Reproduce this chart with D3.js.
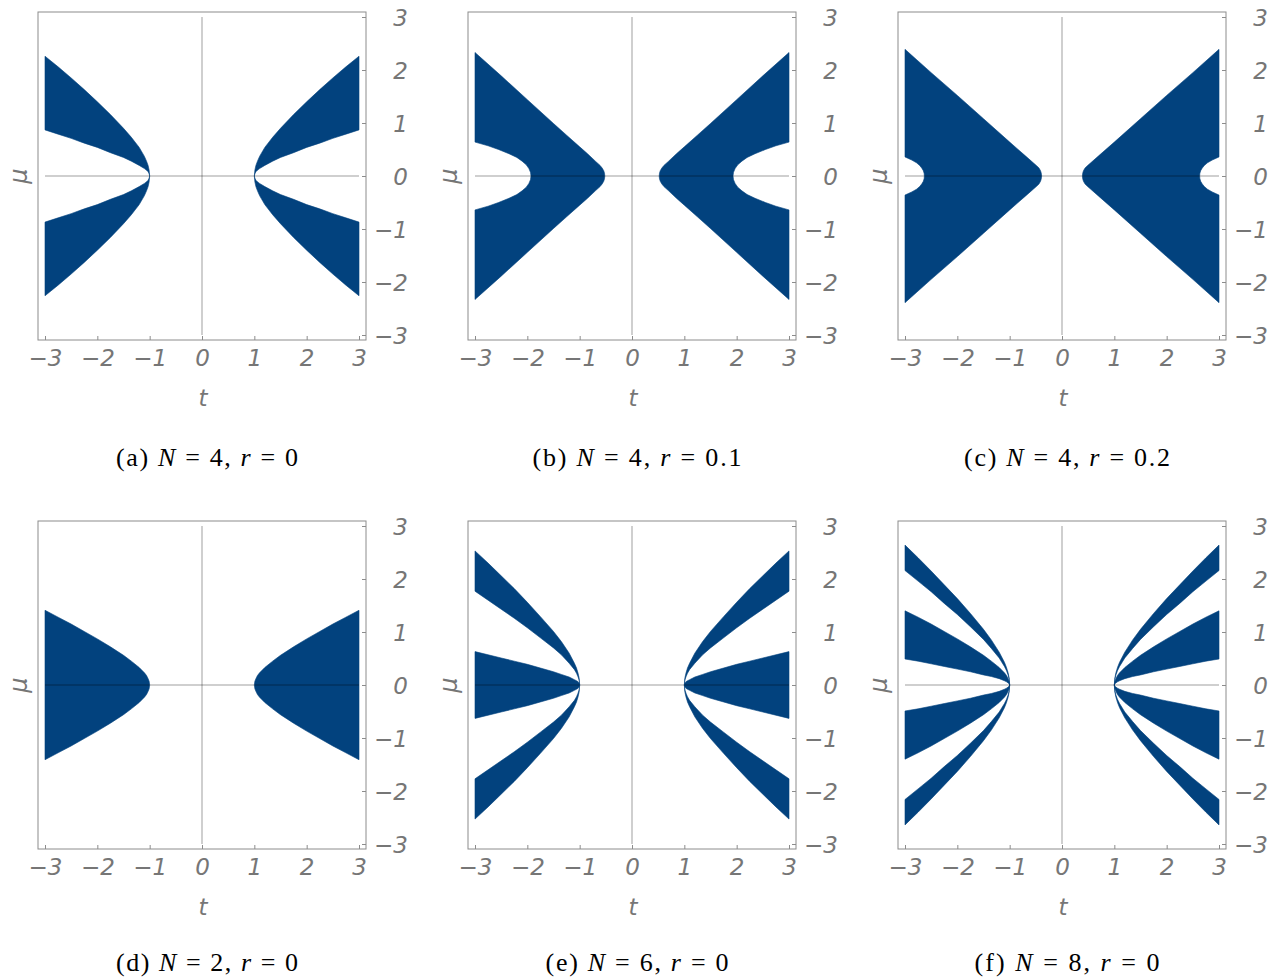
<!DOCTYPE html>
<html>
<head>
<meta charset="utf-8">
<script src="https://cdn.jsdelivr.net/npm/d3@7"></script>
<style>
  body { margin: 0; background: #fff; }
  svg { display: block; }
</style>
</head>
<body>
<div id="canvas"></div>
<script>
"use strict";

/* ---------- data ---------- */
let tickValues = [-3, -2, -1, 0, 1, 2, 3];

let captionLetters = ["(a)", "(b)", "(c)", "(d)", "(e)", "(f)"];
let captionN = ["4", "4", "4", "2", "6", "8"];
let captionR = ["0", "0.1", "0.2", "0", "0", "0"];

// r = 0 panels: boundaries in the upper-right quadrant, sampled at tZero
let tZero   = [1, 1.01, 1.03, 1.06, 1.1, 1.2, 1.35, 1.5, 1.75, 2, 2.25, 2.5, 2.75, 3];
let muN4hi  = [0, 0.11, 0.20, 0.28, 0.37, 0.54, 0.73, 0.90, 1.16, 1.40, 1.63, 1.85, 2.06, 2.26];
let muN4lo  = [0, 0.04, 0.08, 0.11, 0.14, 0.20, 0.28, 0.35, 0.44, 0.54, 0.62, 0.71, 0.79, 0.87];
let muN2    = [0, 0.07, 0.12, 0.18, 0.23, 0.33, 0.45, 0.56, 0.72, 0.87, 1.01, 1.15, 1.28, 1.41];
let muN6a   = [0, 0.13, 0.22, 0.32, 0.41, 0.60, 0.82, 1.01, 1.29, 1.56, 1.82, 2.06, 2.30, 2.53];
let muN6b   = [0, 0.09, 0.15, 0.22, 0.29, 0.41, 0.57, 0.70, 0.89, 1.08, 1.26, 1.43, 1.60, 1.77];
let muN6c   = [0, 0.03, 0.06, 0.08, 0.10, 0.15, 0.20, 0.25, 0.32, 0.39, 0.45, 0.51, 0.57, 0.63];
let muN8a   = [0, 0.13, 0.23, 0.33, 0.43, 0.62, 0.85, 1.05, 1.35, 1.63, 1.89, 2.15, 2.40, 2.64];
let muN8b   = [0, 0.11, 0.19, 0.27, 0.35, 0.51, 0.69, 0.86, 1.10, 1.33, 1.54, 1.76, 1.96, 2.16];
let muN8c   = [0, 0.07, 0.12, 0.18, 0.23, 0.33, 0.45, 0.56, 0.72, 0.87, 1.01, 1.15, 1.28, 1.40];
let muN8d   = [0, 0.02, 0.04, 0.06, 0.08, 0.12, 0.16, 0.19, 0.25, 0.30, 0.35, 0.40, 0.45, 0.49];

// r = 0.1 (panel b): outer edge and inner hole
let tOuterB  = [0.52, 0.525, 0.54, 0.57, 0.61, 0.70, 0.85, 1.0, 1.25, 1.5, 2.0, 2.5, 3];
let muOuterB = [0, 0.05, 0.10, 0.15, 0.20, 0.28, 0.42, 0.55, 0.77, 0.99, 1.44, 1.89, 2.33];
let tInnerB  = [1.93, 1.94, 1.97, 2.02, 2.1, 2.2, 2.35, 2.55, 2.75, 3];
let muInnerB = [0, 0.07, 0.14, 0.21, 0.28, 0.35, 0.42, 0.50, 0.57, 0.64];

// r = 0.2 (panel c)
let tOuterC  = [0.39, 0.395, 0.41, 0.44, 0.48, 0.55, 0.70, 1.0, 1.5, 2.0, 2.5, 3];
let muOuterC = [0, 0.05, 0.10, 0.15, 0.19, 0.25, 0.38, 0.64, 1.08, 1.52, 1.95, 2.39];
let tInnerC  = [2.63, 2.635, 2.65, 2.68, 2.72, 2.78, 2.87, 3];
let muInnerC = [0, 0.05, 0.10, 0.15, 0.20, 0.25, 0.30, 0.36];

/* ---------- layout ---------- */
let svgWidth = 1278;
let svgHeight = 980;
let frameW = 328;
let frameH = 328;
let padX = 7;
let padY = 5;
let colLeft = [38, 468, 898];
let rowTop = [12, 521];
let captionBaseline = [466, 971];
let captionWidth = [182, 209, 206, 182, 183, 185];
let fillBlue = "#02427e";
let gray = "#8c8c8c";
let labelGray = "#767676";
let tickFont = "'DejaVu Sans', sans-serif";

let svg = d3.select("#canvas")
  .append("svg")
  .attr("width", svgWidth)
  .attr("height", svgHeight);

// shape helpers: polygons in (t, mu) for the right half plane
function pts(ts, ms, sign) {
  return ts.map(function(t, i) { return [t, sign * ms[i]]; });
}
function wedge(ts, hi, lo, sign) {
  return pts(ts, hi, sign).concat(pts(ts, lo, sign).reverse());
}
function straddle(ts, hi) {
  return pts(ts, hi, 1).concat(pts(ts, hi, -1).reverse());
}
function holed(tO, mO, tI, mI) {
  return pts(tO, mO, 1)
    .concat(pts(tI, mI, 1).reverse())
    .concat(pts(tI, mI, -1))
    .concat(pts(tO, mO, -1).reverse());
}

let panelShapes = [
  [wedge(tZero, muN4hi, muN4lo, 1), wedge(tZero, muN4lo, muN4hi, -1)],
  [holed(tOuterB, muOuterB, tInnerB, muInnerB)],
  [holed(tOuterC, muOuterC, tInnerC, muInnerC)],
  [straddle(tZero, muN2)],
  [wedge(tZero, muN6a, muN6b, 1), straddle(tZero, muN6c), wedge(tZero, muN6b, muN6a, -1)],
  [wedge(tZero, muN8a, muN8b, 1), wedge(tZero, muN8c, muN8d, 1),
   wedge(tZero, muN8d, muN8c, -1), wedge(tZero, muN8b, muN8a, -1)]
];

for (let p = 0; p < 6; p++) {
  let row = Math.floor(p / 3);
  let left = colLeft[p % 3];
  let top = rowTop[row];
  let right = left + frameW;
  let bottom = top + frameH;

  let xScale = d3.scaleLinear().domain([-3, 3]).range([left + padX, right - padX]);
  let yScale = d3.scaleLinear().domain([-3, 3]).range([bottom - padY, top + padY]);

  let g = svg.append("g");

  // filled regions, drawn on the right and mirrored to the left
  [1, -1].forEach(function(side) {
    let line = d3.line()
      .x(function(d) { return xScale(side * d[0]); })
      .y(function(d) { return yScale(d[1]); });
    panelShapes[p].forEach(function(shape) {
      g.append("path")
        .attr("d", line(shape) + "Z")
        .attr("fill", fillBlue)
        .attr("stroke", fillBlue)
        .attr("stroke-width", 0.6);
    });
  });

  // axes through the origin
  g.append("line")
    .attr("x1", xScale(-3)).attr("x2", xScale(3))
    .attr("y1", yScale(0)).attr("y2", yScale(0))
    .attr("stroke", "#000").attr("stroke-opacity", 0.38).attr("stroke-width", 1);
  g.append("line")
    .attr("x1", xScale(0)).attr("x2", xScale(0))
    .attr("y1", yScale(-3)).attr("y2", yScale(3))
    .attr("stroke", "#000").attr("stroke-opacity", 0.38).attr("stroke-width", 1);

  // frame
  g.append("rect")
    .attr("x", left).attr("y", top)
    .attr("width", frameW).attr("height", frameH)
    .attr("fill", "none")
    .attr("stroke", gray)
    .attr("stroke-width", 1);

  // bottom ticks (pointing in)
  let bottomAxis = g.append("g")
    .attr("transform", "translate(0," + bottom + ")")
    .call(d3.axisBottom(xScale).tickValues(tickValues).tickFormat(d3.format("d"))
      .tickSizeInner(-4).tickSizeOuter(0).tickPadding(10));
  // right ticks (pointing in)
  let rightAxis = g.append("g")
    .attr("transform", "translate(" + right + ",0)")
    .call(d3.axisRight(yScale).tickValues(tickValues).tickFormat(d3.format("d"))
      .tickSizeInner(-4).tickSizeOuter(0));

  [bottomAxis, rightAxis].forEach(function(ax) {
    ax.select(".domain").remove();
    ax.selectAll(".tick line").attr("stroke", gray);
    ax.selectAll("text")
      .attr("fill", labelGray)
      .style("font-family", tickFont)
      .style("font-style", "italic")
      .style("font-size", "23px");
  });
  rightAxis.selectAll("text")
    .attr("x", 42)
    .attr("dy", "0.37em")
    .attr("text-anchor", "end");

  // axis labels
  g.append("text")
    .attr("x", xScale(0) + 1)
    .attr("y", bottom + 66)
    .attr("text-anchor", "middle")
    .attr("fill", labelGray)
    .style("font-family", tickFont)
    .style("font-style", "italic")
    .style("font-size", "23px")
    .text("t");

  g.append("text")
    .attr("transform", "translate(" + (left - 11) + "," + yScale(0) + ") rotate(-90)")
    .attr("text-anchor", "middle")
    .attr("fill", labelGray)
    .style("font-family", tickFont)
    .style("font-style", "italic")
    .style("font-size", "24px")
    .text("μ");

  // caption
  let cap = svg.append("text")
    .attr("x", left + frameW / 2 + 5)
    .attr("y", captionBaseline[row])
    .attr("text-anchor", "middle")
    .attr("textLength", captionWidth[p])
    .attr("lengthAdjust", "spacing")
    .style("font-family", "'Liberation Serif', 'DejaVu Serif', serif")
    .style("font-size", "26px")
    .attr("fill", "#000");
  cap.append("tspan").text(captionLetters[p] + " ");
  cap.append("tspan").style("font-style", "italic").text("N");
  cap.append("tspan").text(" = " + captionN[p] + ", ");
  cap.append("tspan").style("font-style", "italic").text("r");
  cap.append("tspan").text(" = " + captionR[p]);
}
</script>
</body>
</html>
